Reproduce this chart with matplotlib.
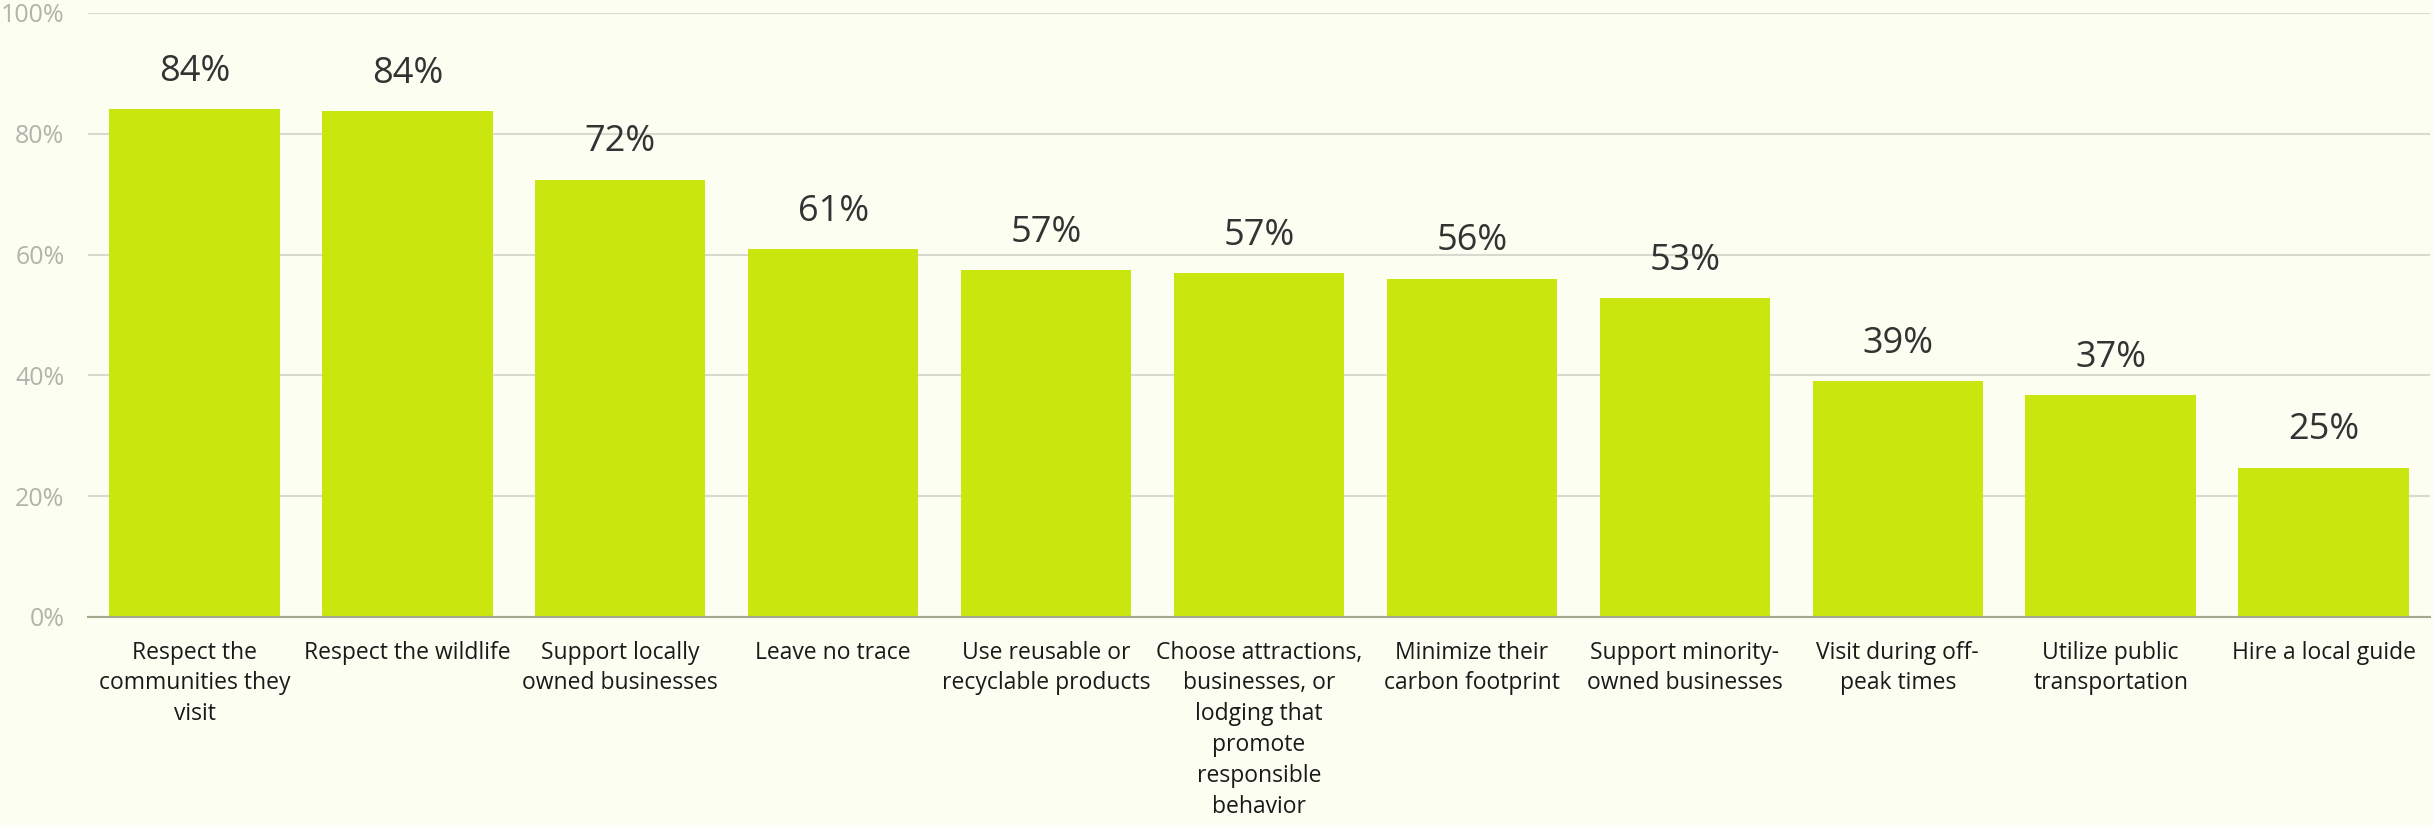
import numpy as np
import matplotlib.pyplot as plt

plt.rcParams['font.family'] = ['Open Sans', 'DejaVu Sans']

categories = [
    'Respect the\ncommunities they\nvisit',
    'Respect the wildlife',
    'Support locally\nowned businesses',
    'Leave no trace',
    'Use reusable or\nrecyclable products',
    'Choose attractions,\nbusinesses, or\nlodging that\npromote\nresponsible\nbehavior',
    'Minimize their\ncarbon footprint',
    'Support minority-\nowned businesses',
    'Visit during off-\npeak times',
    'Utilize public\ntransportation',
    'Hire a local guide',
]
shares = [84.1, 83.8, 72.4, 60.9, 57.4, 56.9, 56.0, 52.8, 39.0, 36.7, 24.7]
yticks = [0, 20, 40, 60, 80, 100]

bg = '#fbfef0'
bar_color = '#c9e60e'

fig = plt.figure(figsize=(24.33, 8.25), dpi=100, facecolor=bg)
ax = fig.add_axes([88 / 2433, 1 - 617 / 825, (2430 - 88) / 2433, 604 / 825])
ax.set_facecolor(bg)

x = np.arange(len(categories))
ax.bar(x, shares, width=0.8, color=bar_color, zorder=3)

for xi, v in zip(x, shares):
    ax.text(xi, v + 3.2, '{:.0f}%'.format(v), ha='center', va='bottom',
            fontsize=26, color='#333333')

ax.set_xlim(-0.5, len(categories) - 0.5)
ax.set_ylim(0, 100)
ax.set_yticks(yticks)
ax.set_yticklabels(['{}%'.format(t) for t in yticks], fontsize=18, color='#b3b3ab')
ax.set_xticks(x)
ax.set_xticklabels(categories, fontsize=16.5, color='#1a1a1a', linespacing=1.38,
                   va='top', ha='center')
ax.tick_params(axis='x', length=0, pad=17)
ax.tick_params(axis='y', length=0, pad=17)

ax.grid(axis='y', color='#d9d9cf', linewidth=1.5, zorder=0)
for side in ['top', 'right', 'left']:
    ax.spines[side].set_visible(False)
ax.spines['bottom'].set_color('#a3a98f')
ax.spines['bottom'].set_linewidth(1.5)
ax.spines['bottom'].set_zorder(4)

plt.savefig('out.png', dpi=100, facecolor=bg)
